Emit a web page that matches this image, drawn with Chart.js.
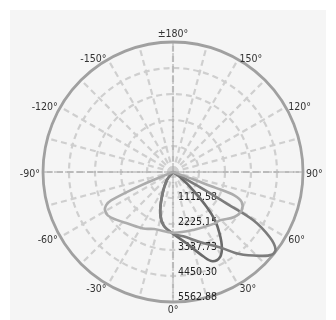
<!DOCTYPE html>
<html>
<head>
<meta charset="utf-8">
<script src="https://cdn.jsdelivr.net/npm/chart.js@4.4.0/dist/chart.umd.min.js"></script>
<style>
  html, body { margin: 0; padding: 0; background: #fff; }
  #wrap { position: absolute; left: 10px; top: 10px; width: 316px; height: 310px; background: #f5f5f5; }
</style>
</head>
<body>
<div id="wrap"><canvas id="polar"></canvas></div>
<script>
// ─── Data (angle in degrees, 0° at the bottom, positive towards the right) ───
const R_MAX = 5562.88;
const RADIAL_TICKS = [1112.58, 2225.15, 3337.73, 4450.30, 5562.88];
const ANGLE_LABELS = [0, 30, 60, 90, 120, 150, 180, -150, -120, -90, -60, -30];
const SPOKE_STEP = 15;

// dark narrow lobe
const thetaA = [-40, -37, -24, -17, -10, 0, 11, 20, 24, 29, 33, 37, 41, 44, 48, 54, 57];
const rA     = [0, 445, 1174, 1866, 2319, 2637, 3120, 3861, 4181, 4156, 3840, 3317, 2740, 2080, 1170, 368, 0];

// mid-grey long lobe towards 55°
const thetaB = [-40, -37, -24, -17, -10, 0, 9, 21, 32, 39, 46, 50, 53, 56, 59, 59.5, 60.5, 62];
const rB     = [0, 445, 1174, 1866, 2319, 2637, 2787, 3210, 3809, 4519, 5164, 5507, 5494, 4997, 4010, 2666, 1322, 0];

// light wide lobe
const thetaC = [-68, -67.4, -65.4, -63.5, -60.6, -56.4, -50.1, -41.3, -27.7, -18.2, 0, 20.3, 38.7, 44.2, 53.7, 60.8, 66.4, 69.2, 69.6, 70.2, 71];
const rC     = [0, 1483, 2916, 3201, 3340, 3354, 3179, 2939, 2735, 2570, 2600, 2631, 2831, 2884, 3254, 3364, 3206, 2808, 1891, 970, 0];

// ─── Helpers ─────────────────────────────────────────────────────────────────
const DEG = Math.PI / 180;
function toXY(thetas, radii) {
  return thetas.map((t, i) => ({ x: radii[i] * Math.sin(t * DEG), y: -radii[i] * Math.cos(t * DEG) }));
}
function angleText(a) {
  return a === 180 ? '\u00b1180\u00b0' : a + '\u00b0';
}

const FONT = "10.5px 'Liberation Sans Narrow', 'DejaVu Sans Condensed', Roboto, sans-serif";

// ─── Polar grid drawn from the cartesian scales ──────────────────────────────
const polarGrid = {
  id: 'polarGrid',
  beforeDatasetsDraw(chart) {
    const { ctx, scales: { x, y } } = chart;
    const cx = x.getPixelForValue(0);
    const cy = y.getPixelForValue(0);
    const px = v => x.getPixelForValue(v) - cx;
    const R = px(R_MAX);

    ctx.save();
    // light spokes
    ctx.strokeStyle = '#cfcfcf';
    ctx.lineWidth = 2.2;
    ctx.setLineDash([6, 4]);
    for (let a = 0; a < 360; a += SPOKE_STEP) {
      ctx.beginPath();
      ctx.moveTo(cx, cy);
      ctx.lineTo(cx + R * Math.sin(a * DEG), cy + R * Math.cos(a * DEG));
      ctx.stroke();
    }
    // inner rings
    RADIAL_TICKS.slice(0, -1).forEach(v => {
      ctx.beginPath();
      ctx.arc(cx, cy, px(v), 0, Math.PI * 2);
      ctx.stroke();
    });
    // main axes
    ctx.strokeStyle = '#a6a6a6';
    ctx.lineWidth = 1;
    ctx.setLineDash([9, 2]);
    ctx.beginPath();
    ctx.moveTo(cx - R, cy); ctx.lineTo(cx + R, cy);
    ctx.moveTo(cx, cy - R); ctx.lineTo(cx, cy + R);
    ctx.stroke();
    // outer ring
    ctx.setLineDash([]);
    ctx.strokeStyle = '#a0a0a0';
    ctx.lineWidth = 2.8;
    ctx.beginPath();
    ctx.arc(cx, cy, R, 0, Math.PI * 2);
    ctx.stroke();

    // angle labels
    ctx.font = FONT;
    ctx.fillStyle = '#333';
    ANGLE_LABELS.forEach(a => {
      const sx = Math.sin(a * DEG), sy = Math.cos(a * DEG);
      const lx = cx + (R + 3) * sx;
      const ly = cy + (R + 3) * sy;
      ctx.textBaseline = 'middle';
      if (Math.abs(sx) < 0.01) {
        ctx.textAlign = 'center';
        ctx.fillText(angleText(a), lx, sy > 0 ? ly + 5 : ly - 5);
      } else {
        ctx.textAlign = sx > 0 ? 'left' : 'right';
        ctx.fillText(angleText(a), lx, ly + 2);
      }
    });

    // radial tick labels along 0° (labels sit a little inside their ring)
    ctx.textAlign = 'left';
    ctx.textBaseline = 'middle';
    ctx.fillStyle = '#222';
    RADIAL_TICKS.forEach(v => {
      ctx.fillText(v.toFixed(2), cx + 5, cy + px(v) * 0.962);
    });
    ctx.restore();
  }
};

// ─── Chart ───────────────────────────────────────────────────────────────────
function lobe(data, color) {
  return {
    data,
    showLine: true,
    borderColor: color,
    borderWidth: 2.6,
    pointRadius: 0,
    tension: 0.35,
    clip: false,
  };
}

new Chart(document.getElementById('polar'), {
  type: 'scatter',
  data: {
    datasets: [
      lobe(toXY(thetaC, rC), '#acacac'),
      lobe(toXY(thetaB, rB), '#7c7c7c'),
      lobe(toXY(thetaA, rA), '#6a6a6a'),
    ],
  },
  options: {
    responsive: true,
    maintainAspectRatio: false,
    animation: false,
    layout: { padding: { left: 33, right: 23, top: 32, bottom: 18 } },
    plugins: { legend: { display: false }, tooltip: { enabled: false } },
    scales: {
      x: { type: 'linear', min: -R_MAX, max: R_MAX, display: false },
      y: { type: 'linear', min: -R_MAX, max: R_MAX, display: false },
    },
  },
  plugins: [polarGrid],
});
</script>
</body>
</html>
